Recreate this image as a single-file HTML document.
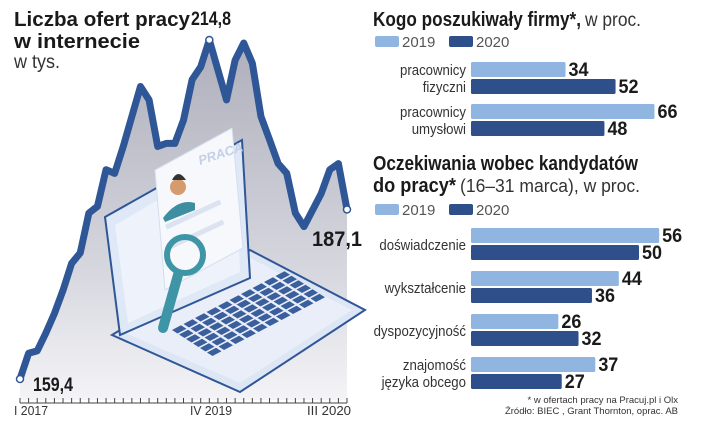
<!DOCTYPE html>
<html><head><meta charset="utf-8">
<style>
body{margin:0;background:#fff;}
svg{display:block;font-family:"Liberation Sans",sans-serif;}
.t{font-weight:bold;fill:#1a1a1a;}
.l{fill:#333;}
</style></head>
<body>
<svg id="c" width="720" height="425" viewBox="0 0 720 425">
<defs>
<linearGradient id="ag" x1="0" y1="0" x2="0" y2="1">
<stop offset="0" stop-color="#aeafbb"/><stop offset="0.6" stop-color="#d3d4dc"/><stop offset="1" stop-color="#f4f4f7"/>
</linearGradient>
</defs>
<g id="line"></g>
<g id="laptop">
<polygon points="112,335 240,392 365,310 250,250" fill="#dde6f5" stroke="#2f5696" stroke-width="2"/>
<polygon points="125,333 240,383 352,310 250,258" fill="#e9eef8"/>
<polygon points="105,217 242,140 250,278 120,335" fill="#dfe8f6" stroke="#2f5696" stroke-width="2"/>
<polygon points="115,225 235,155 240,272 128,323" fill="#eef2fa"/>
<polygon points="155,170 232,128 243,248 165,290" fill="#f6f8fc" stroke="#d4deef"/>
<text x="200" y="165" font-size="13" font-style="italic" font-weight="bold" fill="#c4d0e6" transform="rotate(-18 200 165)">PRACA</text>
<rect x="165" y="225" width="60" height="5" fill="#dbe3f1" transform="rotate(-25 165 225)"/>
<rect x="168" y="245" width="60" height="5" fill="#dbe3f1" transform="rotate(-25 168 245)"/>
<circle cx="178" cy="187" r="8" fill="#d59a6e"/><path d="M172 180 Q178 168 186 180 Z" fill="#333"/>
<path d="M163 218 Q178 198 195 203 L195 210 L165 222Z" fill="#3d8ea0"/>
<g id="keys"></g>
<circle cx="185" cy="255" r="18" fill="none" stroke="#3e95a5" stroke-width="6"/>
<line x1="178" y1="275" x2="163" y2="328" stroke="#3e95a5" stroke-width="10" stroke-linecap="round"/>
</g>
<text class="t" x="14" y="26" font-size="20" textLength="176" lengthAdjust="spacingAndGlyphs">Liczba ofert pracy</text>
<text class="t" x="14" y="48" font-size="20" textLength="126" lengthAdjust="spacingAndGlyphs">w internecie</text>
<text class="l" x="14" y="68" font-size="19" textLength="46" lengthAdjust="spacingAndGlyphs">w tys.</text>
<g id="axis"></g>
<text class="t" x="191" y="25" font-size="19" textLength="40" lengthAdjust="spacingAndGlyphs">214,8</text>
<text class="t" x="33" y="391" font-size="19" textLength="40" lengthAdjust="spacingAndGlyphs">159,4</text>
<text class="t" x="312" y="246" font-size="21" textLength="50" lengthAdjust="spacingAndGlyphs">187,1</text>
<text class="l" x="14" y="415" font-size="13" textLength="34" lengthAdjust="spacingAndGlyphs">I 2017</text>
<text class="l" x="190" y="415" font-size="13" textLength="42" lengthAdjust="spacingAndGlyphs">IV 2019</text>
<text class="l" x="307" y="415" font-size="13" textLength="44" lengthAdjust="spacingAndGlyphs">III 2020</text>
<text class="t" x="373" y="26" font-size="20" textLength="208" lengthAdjust="spacingAndGlyphs">Kogo poszukiwały firmy*,</text>
<text class="l" x="585" y="26" font-size="19" textLength="56" lengthAdjust="spacingAndGlyphs">w proc.</text>
<text class="t" x="373" y="170" font-size="20" textLength="265" lengthAdjust="spacingAndGlyphs">Oczekiwania wobec kandydatów</text>
<text class="t" x="373" y="192" font-size="20" textLength="83" lengthAdjust="spacingAndGlyphs">do pracy*</text>
<text class="l" x="460" y="192" font-size="18" textLength="180" lengthAdjust="spacingAndGlyphs">(16–31 marca), w proc.</text>
<g id="bars1"></g>
<g id="bars2"></g>
<text class="l" x="678" y="403" font-size="9.5" text-anchor="end">* w ofertach pracy na Pracuj.pl i Olx</text>
<text class="l" x="678" y="414" font-size="9.5" text-anchor="end">Źródło: BIEC , Grant Thornton, oprac. AB</text>
</svg>
<script>
const lineValues=[159.4,163.6,164.0,166.9,170.1,173.9,178.3,180.0,186.5,187.6,193.6,193.0,197.4,202.3,207.2,205.0,197.4,197.9,197.9,201.7,208.3,210.4,214.8,209.9,205.0,211.5,214.3,211.0,202.3,198.5,194.6,193.0,186.5,184.3,187.0,189.7,193.6,194.6,187.1];
const cats1=["pracownicy|fizyczni","pracownicy|umysłowi"];
const v2019a=[34,66];
const v2020a=[52,48];
const cats2=["doświadczenie","wykształcenie","dyspozycyjność","znajomość|języka obcego"];
const v2019b=[56,44,26,37];
const v2020b=[50,36,32,27];
const legendYears=["2019","2020"];

const NS="http://www.w3.org/2000/svg";
function mk(p,tag,at,txt){const e=document.createElementNS(NS,tag);for(const k in at)e.setAttribute(k,at[k]);if(txt!=null)e.textContent=txt;p.appendChild(e);return e;}
const xs=i=>20+i*(327/(lineValues.length-1));
const ys=v=>379-(v-159.4)*6.12;
const L=document.getElementById('line');
const pts=lineValues.map((v,i)=>xs(i)+","+ys(v));
const area=mk(L,'polygon',{points:xs(0)+",400 "+pts.join(" ")+" "+xs(lineValues.length-1)+",400",fill:"url(#ag)"});


const pl=mk(L,'polyline',{points:pts.join(" "),fill:"none",stroke:"#2f5696","stroke-width":7,"stroke-linejoin":"round","stroke-linecap":"round"});


const pk=lineValues.indexOf(Math.max(...lineValues));
[0,pk,lineValues.length-1].forEach(i=>{
 const c=mk(L,'circle',{cx:xs(i),cy:ys(lineValues[i]),r:3.5,fill:"#fff",stroke:"#2f5696","stroke-width":1.5});
 
 
});
const A=document.getElementById('axis');
mk(A,'line',{x1:xs(0),y1:403,x2:xs(lineValues.length-1),y2:403,stroke:"#444","stroke-width":1});
lineValues.forEach((v,i)=>{
 const tk=mk(A,'line',{x1:xs(i),y1:398,x2:xs(i),y2:403,stroke:"#444","stroke-width":1});
 
 
});
const K=document.getElementById('keys');
for(let r=0;r<6;r++)for(let c=0;c<10;c++){
 const x0=172+c*11.5+r*7, y0=330-c*6+r*4.5;
 mk(K,'polygon',{points:`${x0},${y0} ${x0+9},${y0-4.7} ${x0+14.5},${y0-1.2} ${x0+5.5},${y0+3.5}`,fill:"#3a5f9c"});
}
function barChart(gid,cats,a,b,scale,legendY,firstY,groupStep){
 const G=document.getElementById(gid);
 const colors=["#8fb5e0","#2f4f8a"];
 legendYears.forEach((yr,i)=>{
  const sx=375+i*74;
  const s=mk(G,'rect',{x:sx,y:legendY,width:24,height:11,rx:2,fill:colors[i]});
  
  
  const t=mk(G,'text',{x:sx+27,y:legendY+11,"font-size":15,fill:"#555"},yr);
  
  
 });
 cats.forEach((cat,k)=>{
  const y=firstY+k*groupStep;
  [a[k],b[k]].forEach((v,j)=>{
   const by=y+j*17;
   const w=v*scale;
   const r=mk(G,'rect',{x:471,y:by,width:w,height:15,rx:1.5,fill:colors[j]});
   
   
   const t=mk(G,'text',{x:471+w+3,y:by+14,"font-size":19,"font-weight":"bold",fill:"#1a1a1a",textLength:v>=10?20:11,lengthAdjust:"spacingAndGlyphs"},String(v));
   
   
  });
  const lines=cat.split("|");
  lines.forEach((ln,m)=>{
   const cy=lines.length===1?y+22:y+13+m*17;
   const t=mk(G,'text',{x:466,y:cy,"font-size":15,"text-anchor":"end",fill:"#333"},ln);
   
   
   const nat=t.getComputedTextLength();
   if(nat>0){t.setAttribute('textLength',(nat*0.88).toFixed(1));t.setAttribute('lengthAdjust','spacingAndGlyphs');}
  });
 });
}
barChart('bars1',cats1,v2019a,v2020a,2.78,36,62,42);
barChart('bars2',cats2,v2019b,v2020b,3.36,204,228,43);
</script>
</body></html>
